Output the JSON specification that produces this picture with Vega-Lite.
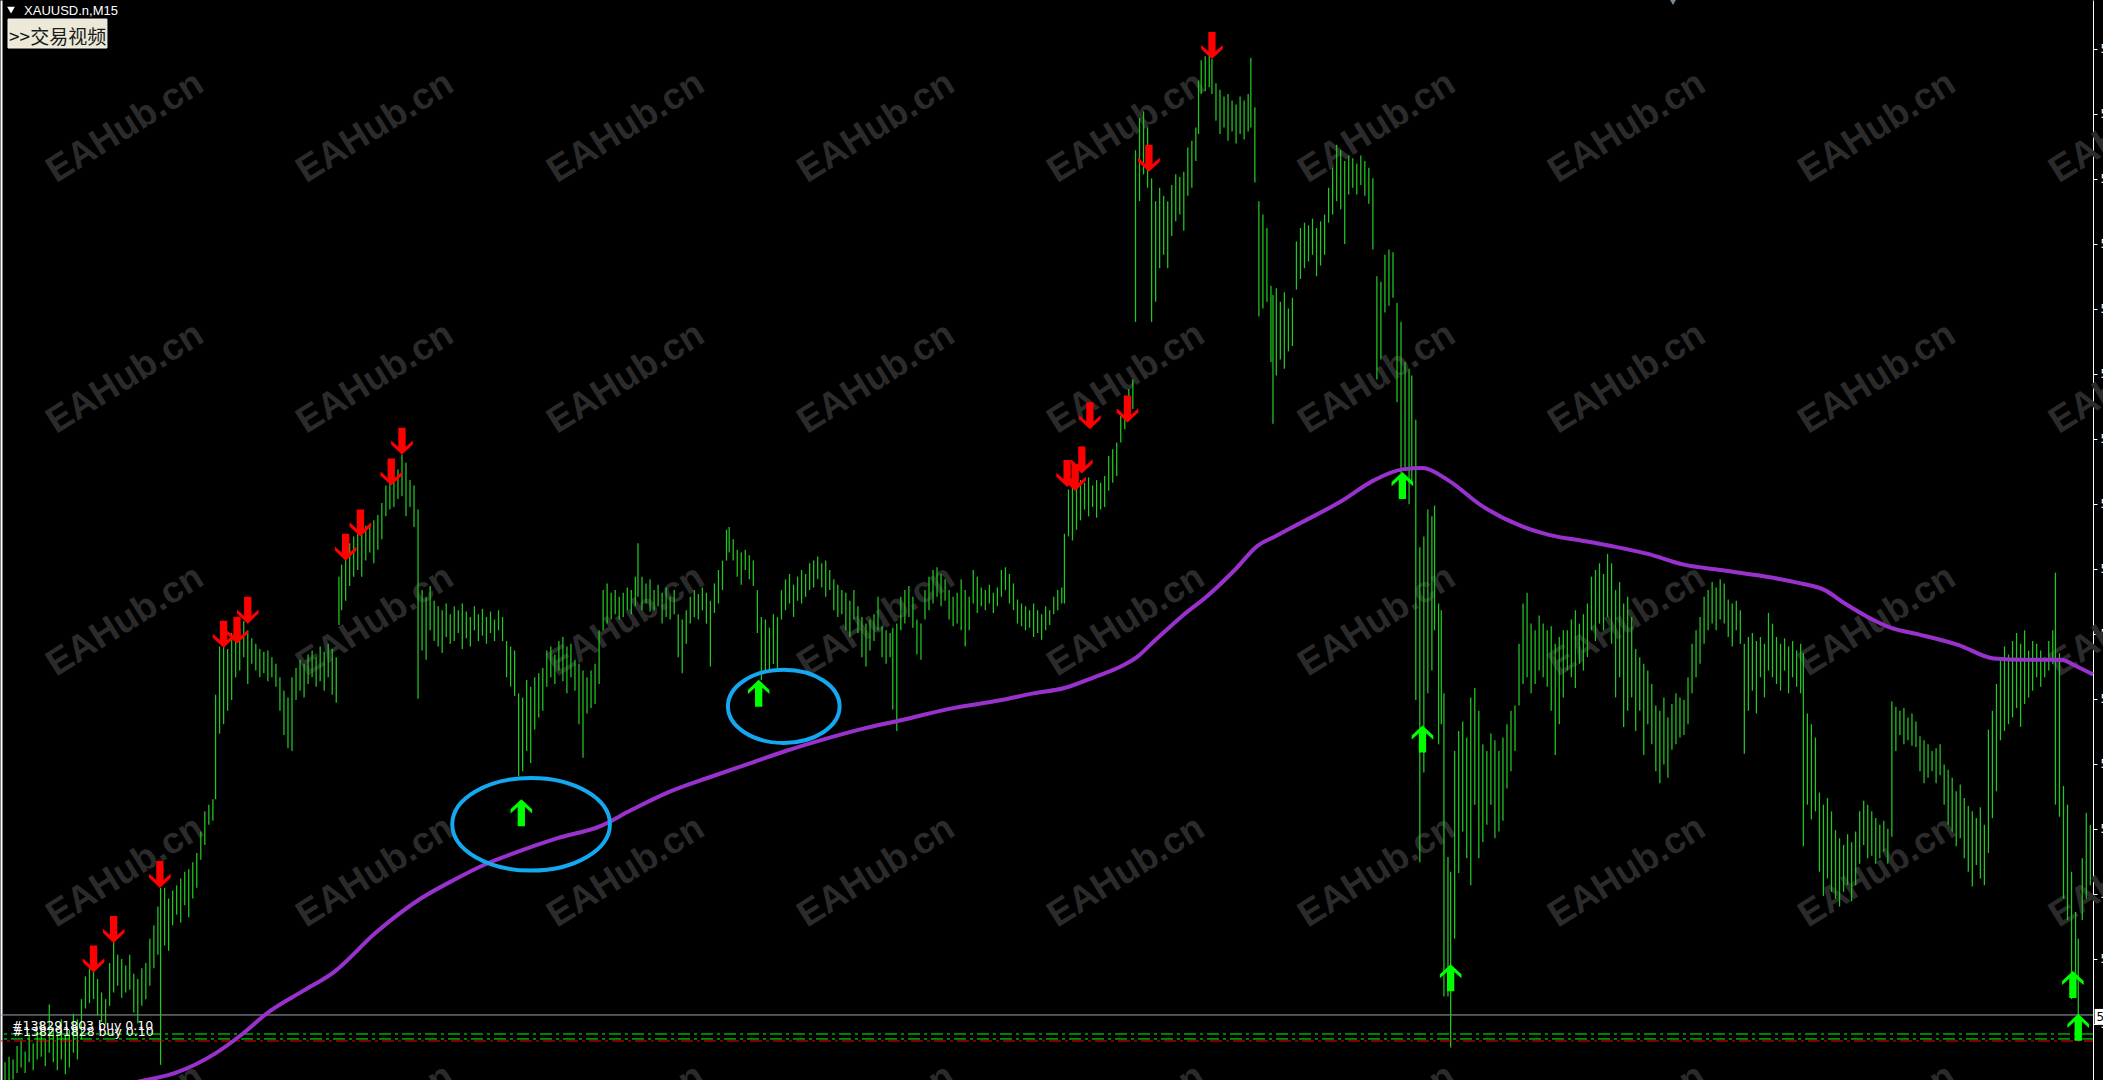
{
"$schema":"https://vega.github.io/schema/vega-lite/v6.json",
"width":2092,"height":1080,
"autosize":{"type":"none"},
"padding":{"left":1,"top":0,"right":10,"bottom":0},
"background":"#000000",
"config":{"view":{"stroke":null},"axis":{"grid":false,"title":null}},
"resolve":{"axis":{"y":"independent"}},
"datasets":{
"wm":[
{"b":92.5,"p":5090.5,"t":"EAHub.cn"},{"b":279,"p":5090.5,"t":"EAHub.cn"},{"b":466,"p":5090.5,"t":"EAHub.cn"},{"b":652.5,"p":5090.5,"t":"EAHub.cn"},{"b":839,"p":5090.5,"t":"EAHub.cn"},{"b":1026,"p":5090.5,"t":"EAHub.cn"},{"b":1212.5,"p":5090.5,"t":"EAHub.cn"},{"b":1399,"p":5090.5,"t":"EAHub.cn"},{"b":1586,"p":5090.5,"t":"EAHub.cn"},
{"b":92.5,"p":5071.8,"t":"EAHub.cn"},{"b":279,"p":5071.8,"t":"EAHub.cn"},{"b":466,"p":5071.8,"t":"EAHub.cn"},{"b":652.5,"p":5071.8,"t":"EAHub.cn"},{"b":839,"p":5071.8,"t":"EAHub.cn"},{"b":1026,"p":5071.8,"t":"EAHub.cn"},{"b":1212.5,"p":5071.8,"t":"EAHub.cn"},{"b":1399,"p":5071.8,"t":"EAHub.cn"},{"b":1586,"p":5071.8,"t":"EAHub.cn"},
{"b":92.5,"p":5053.7,"t":"EAHub.cn"},{"b":279,"p":5053.7,"t":"EAHub.cn"},{"b":466,"p":5053.7,"t":"EAHub.cn"},{"b":652.5,"p":5053.7,"t":"EAHub.cn"},{"b":839,"p":5053.7,"t":"EAHub.cn"},{"b":1026,"p":5053.7,"t":"EAHub.cn"},{"b":1212.5,"p":5053.7,"t":"EAHub.cn"},{"b":1399,"p":5053.7,"t":"EAHub.cn"},{"b":1586,"p":5053.7,"t":"EAHub.cn"},
{"b":92.5,"p":5035.0,"t":"EAHub.cn"},{"b":279,"p":5035.0,"t":"EAHub.cn"},{"b":466,"p":5035.0,"t":"EAHub.cn"},{"b":652.5,"p":5035.0,"t":"EAHub.cn"},{"b":839,"p":5035.0,"t":"EAHub.cn"},{"b":1026,"p":5035.0,"t":"EAHub.cn"},{"b":1212.5,"p":5035.0,"t":"EAHub.cn"},{"b":1399,"p":5035.0,"t":"EAHub.cn"},{"b":1586,"p":5035.0,"t":"EAHub.cn"},
{"b":92.5,"p":5016.5,"t":"EAHub.cn"},{"b":279,"p":5016.5,"t":"EAHub.cn"},{"b":466,"p":5016.5,"t":"EAHub.cn"},{"b":652.5,"p":5016.5,"t":"EAHub.cn"},{"b":839,"p":5016.5,"t":"EAHub.cn"},{"b":1026,"p":5016.5,"t":"EAHub.cn"},{"b":1212.5,"p":5016.5,"t":"EAHub.cn"},{"b":1399,"p":5016.5,"t":"EAHub.cn"},{"b":1586,"p":5016.5,"t":"EAHub.cn"}
],
"lv":[{"p":5024.32,"k":"bid"},{"p":5022.9,"k":"g"},{"p":5022.53,"k":"g"},{"p":5022.38,"k":"r"}],
"bars":[
{"b":3,"h":5020.8,"l":5019.0},{"b":6,"h":5021.2,"l":5019.2},{"b":9,"h":5021.0,"l":5019.5},{"b":12,"h":5022.0,"l":5020.0},{"b":15,"h":5022.4,"l":5020.4},{"b":18,"h":5021.6,"l":5020.0},{"b":21,"h":5022.8,"l":5020.8},{"b":24,"h":5022.2,"l":5020.2},{"b":27,"h":5023.0,"l":5021.0},{"b":30,"h":5023.8,"l":5021.2},{"b":33,"h":5022.5,"l":5020.5},{"b":36,"h":5025.1,"l":5021.5},{"b":39,"h":5023.4,"l":5020.8},{"b":42,"h":5023.0,"l":5020.2},{"b":45,"h":5024.0,"l":5021.0},{"b":48,"h":5022.8,"l":5019.9},{"b":51,"h":5023.2,"l":5020.4},{"b":54,"h":5024.4,"l":5021.5},{"b":57,"h":5024.0,"l":5021.0},{"b":60,"h":5025.5,"l":5022.5},
{"b":63,"h":5027.2,"l":5024.8},{"b":66,"h":5027.8,"l":5025.2},{"b":69,"h":5027.6,"l":5025.5},{"b":72,"h":5027.0,"l":5024.3},{"b":75,"h":5026.0,"l":5023.8},{"b":78,"h":5025.5,"l":5023.6},{"b":81,"h":5028.2,"l":5025.0},{"b":84,"h":5029.8,"l":5026.0},{"b":87,"h":5028.8,"l":5026.5},{"b":90,"h":5028.5,"l":5025.6},{"b":93,"h":5028.0,"l":5026.0},{"b":96,"h":5028.8,"l":5026.2},{"b":99,"h":5027.4,"l":5024.5},{"b":102,"h":5027.0,"l":5023.7},{"b":105,"h":5027.8,"l":5025.0},{"b":108,"h":5028.2,"l":5025.5},{"b":111,"h":5030.0,"l":5026.5},{"b":114,"h":5031.0,"l":5027.8},{"b":117,"h":5032.4,"l":5028.8},{"b":119,"h":5033.8,"l":5020.6},
{"b":122,"h":5033.8,"l":5029.5},{"b":125,"h":5033.0,"l":5029.1},{"b":128,"h":5033.6,"l":5031.0},{"b":131,"h":5034.0,"l":5031.8},{"b":134,"h":5034.5,"l":5031.2},{"b":137,"h":5035.0,"l":5032.5},{"b":140,"h":5035.2,"l":5031.6},{"b":143,"h":5035.7,"l":5033.0},{"b":146,"h":5036.4,"l":5033.8},{"b":149,"h":5038.0,"l":5035.9},{"b":152,"h":5039.5,"l":5037.0},{"b":155,"h":5040.0,"l":5038.5},{"b":158,"h":5040.4,"l":5038.8},{"b":160,"h":5048.2,"l":5040.4},
{"b":163,"h":5051.8,"l":5045.3},{"b":166,"h":5052.2,"l":5046.0},{"b":169,"h":5051.6,"l":5047.0},{"b":172,"h":5052.8,"l":5047.8},{"b":175,"h":5053.4,"l":5049.5},{"b":178,"h":5053.2,"l":5050.0},{"b":181,"h":5053.7,"l":5051.0},{"b":184,"h":5053.0,"l":5049.0},{"b":187,"h":5052.4,"l":5050.5},{"b":190,"h":5052.0,"l":5050.0},{"b":193,"h":5051.6,"l":5049.5},{"b":196,"h":5051.4,"l":5049.8},{"b":199,"h":5051.5,"l":5049.2},{"b":202,"h":5051.0,"l":5049.5},{"b":205,"h":5050.5,"l":5048.8},{"b":208,"h":5049.5,"l":5047.0},{"b":211,"h":5048.5,"l":5045.2},{"b":214,"h":5048.0,"l":5044.2},{"b":217,"h":5049.5,"l":5044.0},
{"b":220,"h":5050.2,"l":5047.8},{"b":223,"h":5050.8,"l":5048.5},{"b":226,"h":5050.5,"l":5048.0},{"b":229,"h":5051.2,"l":5049.0},{"b":232,"h":5051.5,"l":5049.5},{"b":235,"h":5051.0,"l":5048.8},{"b":238,"h":5051.8,"l":5049.2},{"b":241,"h":5051.4,"l":5048.5},{"b":244,"h":5052.0,"l":5049.5},{"b":247,"h":5051.6,"l":5048.2},{"b":250,"h":5051.0,"l":5047.6},
{"b":252,"h":5057.0,"l":5053.4},{"b":254,"h":5057.9,"l":5054.5},{"b":257,"h":5058.5,"l":5055.2},{"b":260,"h":5059.5,"l":5056.3},{"b":263,"h":5060.0,"l":5057.0},{"b":266,"h":5060.2,"l":5057.5},{"b":269,"h":5060.5,"l":5057.0},{"b":272,"h":5060.8,"l":5058.2},{"b":275,"h":5060.8,"l":5058.8},{"b":278,"h":5061.2,"l":5058.0},{"b":281,"h":5061.6,"l":5059.0},{"b":284,"h":5062.5,"l":5059.8},{"b":287,"h":5063.8,"l":5061.5},{"b":290,"h":5064.2,"l":5062.0},{"b":293,"h":5064.4,"l":5062.2},{"b":296,"h":5065.0,"l":5062.8},{"b":299,"h":5066.1,"l":5063.0},{"b":302,"h":5065.5,"l":5061.5},{"b":305,"h":5064.2,"l":5062.2},{"b":308,"h":5063.8,"l":5060.7},{"b":311,"h":5062.0,"l":5047.9},
{"b":314,"h":5056.0,"l":5051.5},{"b":317,"h":5055.5,"l":5050.8},{"b":320,"h":5056.3,"l":5053.0},{"b":323,"h":5055.2,"l":5052.2},{"b":326,"h":5054.8,"l":5051.8},{"b":329,"h":5054.5,"l":5051.3},{"b":332,"h":5055.0,"l":5052.5},{"b":335,"h":5054.2,"l":5052.0},{"b":338,"h":5054.8,"l":5052.2},{"b":341,"h":5054.5,"l":5052.8},{"b":344,"h":5055.0,"l":5051.6},{"b":347,"h":5054.4,"l":5052.4},{"b":350,"h":5054.0,"l":5051.8},{"b":353,"h":5054.8,"l":5053.0},{"b":356,"h":5054.2,"l":5052.2},{"b":359,"h":5054.6,"l":5052.6},{"b":362,"h":5054.0,"l":5052.0},{"b":365,"h":5054.4,"l":5052.8},{"b":368,"h":5053.8,"l":5052.2},{"b":371,"h":5054.5,"l":5053.0},{"b":374,"h":5054.0,"l":5052.2},
{"b":377,"h":5052.2,"l":5049.5},{"b":380,"h":5051.8,"l":5048.8},{"b":383,"h":5051.5,"l":5048.1},{"b":386,"h":5048.3,"l":5042.1},{"b":389,"h":5048.0,"l":5042.5},{"b":392,"h":5049.3,"l":5044.0},{"b":395,"h":5048.8,"l":5043.1},{"b":398,"h":5049.5,"l":5045.6},{"b":401,"h":5049.8,"l":5046.5},{"b":404,"h":5050.2,"l":5047.0},{"b":407,"h":5051.5,"l":5048.8},{"b":410,"h":5051.8,"l":5049.5},{"b":413,"h":5051.2,"l":5049.0},{"b":416,"h":5052.2,"l":5050.0},{"b":419,"h":5052.5,"l":5049.2},{"b":422,"h":5051.8,"l":5048.3},{"b":425,"h":5052.0,"l":5049.5},{"b":428,"h":5050.8,"l":5048.5},{"b":431,"h":5050.5,"l":5046.0},{"b":434,"h":5050.0,"l":5043.5},{"b":437,"h":5049.5,"l":5046.8},{"b":440,"h":5050.0,"l":5047.2},{"b":443,"h":5050.5,"l":5047.5},{"b":446,"h":5053.0,"l":5049.0},
{"b":449,"h":5056.0,"l":5053.0},{"b":452,"h":5056.5,"l":5053.5},{"b":455,"h":5055.8,"l":5053.8},{"b":458,"h":5056.0,"l":5054.2},{"b":461,"h":5055.5,"l":5053.8},{"b":464,"h":5055.8,"l":5054.0},{"b":467,"h":5056.2,"l":5054.5},{"b":470,"h":5056.0,"l":5054.2},{"b":473,"h":5057.0,"l":5054.8},{"b":475,"h":5059.5,"l":5055.5},{"b":478,"h":5057.0,"l":5054.5},{"b":481,"h":5056.5,"l":5055.0},{"b":484,"h":5056.8,"l":5054.4},{"b":487,"h":5056.0,"l":5054.5},{"b":490,"h":5056.4,"l":5054.8},{"b":493,"h":5055.8,"l":5053.5},{"b":496,"h":5056.2,"l":5054.0},{"b":499,"h":5055.5,"l":5053.8},{"b":502,"h":5056.0,"l":5054.2},{"b":505,"h":5054.2,"l":5051.0},{"b":508,"h":5053.8,"l":5049.8},{"b":511,"h":5054.5,"l":5052.0},{"b":514,"h":5055.5,"l":5053.5},{"b":517,"h":5056.0,"l":5054.0},{"b":520,"h":5055.7,"l":5053.8},{"b":523,"h":5056.2,"l":5054.5},{"b":526,"h":5055.8,"l":5053.5},{"b":529,"h":5055.2,"l":5050.3},
{"b":532,"h":5056.5,"l":5054.3},{"b":535,"h":5057.5,"l":5055.0},{"b":538,"h":5058.2,"l":5056.0},{"b":541,"h":5060.5,"l":5058.2},{"b":543,"h":5060.7,"l":5058.8},{"b":546,"h":5059.8,"l":5058.2},{"b":549,"h":5059.0,"l":5057.0},{"b":552,"h":5058.8,"l":5056.4},{"b":555,"h":5059.0,"l":5057.5},{"b":558,"h":5058.6,"l":5056.8},{"b":561,"h":5058.2,"l":5056.3},{"b":564,"h":5056.0,"l":5052.8},{"b":567,"h":5054.0,"l":5049.3},{"b":570,"h":5053.8,"l":5050.0},{"b":573,"h":5053.2,"l":5050.0},{"b":576,"h":5054.2,"l":5050.5},{"b":579,"h":5054.0,"l":5050.0},{"b":582,"h":5056.0,"l":5053.8},{"b":585,"h":5056.8,"l":5054.5},{"b":588,"h":5057.2,"l":5055.0},{"b":591,"h":5056.4,"l":5054.0},{"b":594,"h":5057.0,"l":5055.2},{"b":597,"h":5057.5,"l":5055.0},{"b":600,"h":5057.2,"l":5055.5},{"b":603,"h":5058.0,"l":5056.0},{"b":606,"h":5058.2,"l":5056.2},{"b":609,"h":5058.5,"l":5056.8},
{"b":612,"h":5058.0,"l":5056.2},{"b":615,"h":5058.2,"l":5055.5},{"b":618,"h":5057.5,"l":5056.0},{"b":621,"h":5056.8,"l":5054.5},{"b":624,"h":5056.4,"l":5054.0},{"b":627,"h":5056.0,"l":5054.2},{"b":630,"h":5055.8,"l":5053.0},{"b":633,"h":5055.2,"l":5052.5},{"b":636,"h":5056.0,"l":5053.8},{"b":639,"h":5054.8,"l":5052.8},{"b":642,"h":5054.0,"l":5051.0},{"b":645,"h":5053.5,"l":5050.3},{"b":648,"h":5053.8,"l":5051.5},{"b":651,"h":5054.2,"l":5052.2},{"b":654,"h":5055.5,"l":5053.0},{"b":657,"h":5053.3,"l":5051.0},{"b":660,"h":5053.0,"l":5050.5},{"b":663,"h":5052.8,"l":5051.0},{"b":665,"h":5053.2,"l":5047.1},{"b":668,"h":5053.5,"l":5045.5},
{"b":671,"h":5055.5,"l":5053.0},{"b":674,"h":5056.0,"l":5053.5},{"b":677,"h":5056.3,"l":5054.0},{"b":680,"h":5055.5,"l":5053.2},{"b":683,"h":5053.8,"l":5051.2},{"b":686,"h":5053.5,"l":5050.8},{"b":689,"h":5056.0,"l":5053.8},{"b":692,"h":5057.0,"l":5054.5},{"b":695,"h":5057.5,"l":5055.0},{"b":698,"h":5057.7,"l":5055.5},{"b":701,"h":5057.2,"l":5054.8},{"b":704,"h":5056.8,"l":5055.2},{"b":707,"h":5056.0,"l":5053.8},{"b":710,"h":5055.5,"l":5053.3},{"b":713,"h":5055.8,"l":5053.5},{"b":716,"h":5056.8,"l":5053.0},{"b":719,"h":5056.0,"l":5051.8},{"b":722,"h":5055.5,"l":5053.0},{"b":725,"h":5057.5,"l":5055.0},{"b":728,"h":5057.0,"l":5054.3},{"b":731,"h":5056.2,"l":5054.8},{"b":734,"h":5056.0,"l":5054.5},{"b":737,"h":5056.4,"l":5055.0},{"b":740,"h":5055.8,"l":5054.3},{"b":743,"h":5056.2,"l":5054.8},{"b":746,"h":5057.5,"l":5055.5},{"b":749,"h":5057.7,"l":5056.0},{"b":752,"h":5057.2,"l":5055.0},{"b":755,"h":5056.5,"l":5054.5},
{"b":758,"h":5055.3,"l":5053.5},{"b":761,"h":5055.0,"l":5053.3},{"b":764,"h":5054.8,"l":5053.0},{"b":767,"h":5054.5,"l":5053.2},{"b":770,"h":5055.0,"l":5052.5},{"b":773,"h":5054.5,"l":5052.8},{"b":776,"h":5054.2,"l":5052.3},{"b":779,"h":5054.8,"l":5053.0},{"b":782,"h":5054.5,"l":5053.4},{"b":785,"h":5055.5,"l":5054.2},{"b":788,"h":5056.0,"l":5054.5},{"b":791,"h":5056.2,"l":5055.0},{"b":793,"h":5060.2,"l":5055.0},
{"b":796,"h":5063.5,"l":5060.0},{"b":799,"h":5064.5,"l":5059.7},{"b":802,"h":5063.7,"l":5060.5},{"b":805,"h":5064.2,"l":5061.2},{"b":808,"h":5064.0,"l":5062.0},{"b":811,"h":5064.4,"l":5061.5},{"b":814,"h":5063.8,"l":5062.2},{"b":817,"h":5064.2,"l":5061.4},{"b":820,"h":5064.0,"l":5062.0},{"b":823,"h":5064.5,"l":5062.2},{"b":826,"h":5066.0,"l":5063.4},{"b":829,"h":5066.5,"l":5064.0},{"b":832,"h":5067.0,"l":5064.5},{"b":835,"h":5069.0,"l":5067.0},{"b":838,"h":5070.5,"l":5068.0},{"b":841,"h":5071.0,"l":5068.8},{"b":844,"h":5071.7,"l":5069.5},{"b":846,"h":5088.8,"l":5076.0},
{"b":849,"h":5091.2,"l":5085.0},{"b":852,"h":5091.7,"l":5087.0},{"b":855,"h":5090.5,"l":5086.0},{"b":858,"h":5086.7,"l":5076.0},{"b":861,"h":5085.0,"l":5077.5},{"b":864,"h":5086.0,"l":5080.0},{"b":867,"h":5085.4,"l":5081.0},{"b":870,"h":5085.0,"l":5080.0},{"b":873,"h":5086.2,"l":5082.4},{"b":876,"h":5087.0,"l":5083.5},{"b":879,"h":5086.8,"l":5084.0},{"b":882,"h":5087.2,"l":5082.8},{"b":885,"h":5089.0,"l":5085.4},{"b":888,"h":5089.5,"l":5086.0},{"b":891,"h":5090.5,"l":5088.0},{"b":893,"h":5094.0,"l":5090.0},{"b":895,"h":5095.5,"l":5093.0},{"b":898,"h":5095.8,"l":5093.2},{"b":901,"h":5096.0,"l":5093.5},{"b":903,"h":5095.6,"l":5093.0},
{"b":906,"h":5093.8,"l":5091.0},{"b":909,"h":5093.3,"l":5090.0},{"b":912,"h":5092.8,"l":5090.5},{"b":915,"h":5093.0,"l":5089.5},{"b":918,"h":5092.5,"l":5090.2},{"b":921,"h":5092.2,"l":5089.3},{"b":924,"h":5092.8,"l":5090.0},{"b":927,"h":5092.5,"l":5089.6},{"b":930,"h":5093.0,"l":5090.2},{"b":932,"h":5095.7,"l":5090.5},{"b":935,"h":5092.0,"l":5086.4},{"b":938,"h":5085.0,"l":5076.4},{"b":941,"h":5084.0,"l":5077.0},{"b":944,"h":5083.0,"l":5077.5},{"b":947,"h":5078.7,"l":5073.0},{"b":948.5,"h":5078.0,"l":5068.4},{"b":951,"h":5078.5,"l":5072.0},{"b":954,"h":5077.5,"l":5073.2},{"b":957,"h":5078.2,"l":5072.5},{"b":960,"h":5077.0,"l":5073.8},{"b":963,"h":5077.8,"l":5074.2},
{"b":966,"h":5082.0,"l":5078.4},{"b":969,"h":5083.0,"l":5079.2},{"b":972,"h":5083.4,"l":5080.0},{"b":975,"h":5083.2,"l":5080.5},{"b":978,"h":5083.7,"l":5081.0},{"b":981,"h":5083.0,"l":5079.4},{"b":984,"h":5083.5,"l":5080.2},{"b":987,"h":5084.0,"l":5081.0},{"b":990,"h":5086.0,"l":5083.4},{"b":993,"h":5087.5,"l":5084.0},{"b":996,"h":5089.2,"l":5085.0},{"b":999,"h":5088.8,"l":5084.4},{"b":1002,"h":5088.0,"l":5081.8},{"b":1005,"h":5088.4,"l":5085.5},{"b":1008,"h":5088.2,"l":5086.0},{"b":1011,"h":5087.8,"l":5085.5},{"b":1014,"h":5088.4,"l":5086.2},{"b":1017,"h":5088.0,"l":5085.4},{"b":1020,"h":5087.5,"l":5084.8},{"b":1023,"h":5086.7,"l":5081.4},
{"b":1026,"h":5079.4,"l":5071.7},{"b":1029,"h":5079.0,"l":5073.2},{"b":1032,"h":5081.0,"l":5076.7},{"b":1035,"h":5081.4,"l":5077.2},{"b":1038,"h":5081.2,"l":5077.8},{"b":1041,"h":5077.4,"l":5070.0},{"b":1044,"h":5076.0,"l":5064.7},{"b":1047,"h":5073.0,"l":5065.0},{"b":1050,"h":5072.5,"l":5062.4},{"b":1052,"h":5072.0,"l":5064.0},{"b":1055,"h":5068.7,"l":5047.8},
{"b":1058,"h":5059.2,"l":5035.7},{"b":1061,"h":5060.0,"l":5042.4},{"b":1064,"h":5062.0,"l":5048.3},{"b":1067,"h":5061.5,"l":5050.0},{"b":1069,"h":5062.3,"l":5053.0},{"b":1072,"h":5055.0,"l":5044.5},{"b":1074,"h":5054.5,"l":5046.0},{"b":1076,"h":5048.3,"l":5025.7},{"b":1079,"h":5036.1,"l":5025.7},{"b":1081,"h":5035.0,"l":5021.9},{"b":1084,"h":5044.0,"l":5030.0},{"b":1087,"h":5045.5,"l":5034.9},{"b":1090,"h":5046.2,"l":5038.0},{"b":1093,"h":5045.0,"l":5036.0},{"b":1096,"h":5048.0,"l":5034.0},{"b":1099,"h":5048.7,"l":5040.0},{"b":1102,"h":5047.0,"l":5036.0},{"b":1105,"h":5044.5,"l":5037.2},{"b":1108,"h":5044.0,"l":5038.5},{"b":1111,"h":5045.3,"l":5040.0},{"b":1114,"h":5044.8,"l":5037.5},{"b":1117,"h":5044.0,"l":5038.0},{"b":1120,"h":5045.0,"l":5038.8},{"b":1123,"h":5046.0,"l":5041.2},{"b":1126,"h":5047.0,"l":5042.5},{"b":1129,"h":5047.4,"l":5044.0},
{"b":1132,"h":5052.0,"l":5047.4},{"b":1135,"h":5055.0,"l":5049.0},{"b":1138,"h":5055.8,"l":5049.5},{"b":1141,"h":5053.5,"l":5048.3},{"b":1144,"h":5053.0,"l":5049.0},{"b":1147,"h":5054.1,"l":5050.0},{"b":1150,"h":5053.5,"l":5049.5},{"b":1153,"h":5053.0,"l":5048.8},{"b":1156,"h":5053.3,"l":5047.0},{"b":1159,"h":5052.0,"l":5043.7},{"b":1162,"h":5052.5,"l":5046.0},{"b":1165,"h":5053.0,"l":5048.0},{"b":1168,"h":5053.0,"l":5050.0},{"b":1171,"h":5053.8,"l":5049.5},{"b":1174,"h":5054.5,"l":5048.7},{"b":1177,"h":5053.5,"l":5050.5},{"b":1180,"h":5054.2,"l":5050.0},{"b":1183,"h":5055.0,"l":5051.0},{"b":1186,"h":5057.0,"l":5053.0},{"b":1189,"h":5057.5,"l":5052.2},{"b":1192,"h":5058.0,"l":5053.5},{"b":1195,"h":5057.2,"l":5053.0},{"b":1198,"h":5058.7,"l":5054.0},{"b":1201,"h":5058.0,"l":5052.0},
{"b":1204,"h":5056.0,"l":5048.0},{"b":1207,"h":5056.6,"l":5049.5},{"b":1210,"h":5055.0,"l":5045.8},{"b":1213,"h":5055.5,"l":5047.0},{"b":1216,"h":5054.0,"l":5048.0},{"b":1219,"h":5051.6,"l":5045.5},{"b":1222,"h":5051.0,"l":5047.0},{"b":1225,"h":5050.5,"l":5043.7},{"b":1228,"h":5050.0,"l":5046.0},{"b":1231,"h":5049.0,"l":5044.5},{"b":1234,"h":5047.4,"l":5042.5},{"b":1237,"h":5047.0,"l":5041.6},{"b":1240,"h":5048.0,"l":5043.0},{"b":1243,"h":5046.5,"l":5042.0},{"b":1246,"h":5047.5,"l":5044.1},{"b":1249,"h":5048.3,"l":5044.5},{"b":1252,"h":5048.0,"l":5045.0},{"b":1255,"h":5047.8,"l":5045.2},{"b":1258,"h":5049.5,"l":5046.0},{"b":1261,"h":5052.0,"l":5048.3},{"b":1264,"h":5053.0,"l":5049.5},{"b":1267,"h":5054.0,"l":5050.5},{"b":1270,"h":5055.5,"l":5052.0},{"b":1273,"h":5056.0,"l":5053.0},{"b":1276,"h":5056.6,"l":5053.5},{"b":1279,"h":5056.2,"l":5053.0},{"b":1282,"h":5056.8,"l":5053.8},
{"b":1285,"h":5056.5,"l":5053.5},{"b":1288,"h":5055.3,"l":5052.5},{"b":1291,"h":5055.0,"l":5051.8},{"b":1294,"h":5055.2,"l":5053.0},{"b":1297,"h":5054.5,"l":5052.0},{"b":1300,"h":5052.0,"l":5043.8},{"b":1303,"h":5052.5,"l":5047.0},{"b":1306,"h":5052.8,"l":5048.5},{"b":1309,"h":5052.2,"l":5046.8},{"b":1312,"h":5052.5,"l":5049.5},{"b":1315,"h":5052.0,"l":5048.0},{"b":1318,"h":5054.3,"l":5050.0},{"b":1321,"h":5053.5,"l":5049.5},{"b":1324,"h":5052.5,"l":5049.0},{"b":1327,"h":5052.0,"l":5048.5},{"b":1330,"h":5052.4,"l":5050.0},{"b":1333,"h":5051.8,"l":5048.3},{"b":1336,"h":5052.2,"l":5049.5},{"b":1339,"h":5051.5,"l":5048.8},{"b":1342,"h":5052.0,"l":5048.3},{"b":1344,"h":5051.3,"l":5036.9},
{"b":1347,"h":5046.8,"l":5040.0},{"b":1350,"h":5046.0,"l":5038.9},{"b":1353,"h":5045.0,"l":5039.5},{"b":1356,"h":5040.9,"l":5035.0},{"b":1359,"h":5040.0,"l":5033.2},{"b":1362,"h":5040.5,"l":5034.5},{"b":1365,"h":5039.5,"l":5033.5},{"b":1368,"h":5038.1,"l":5033.0},{"b":1371,"h":5037.5,"l":5032.4},{"b":1374,"h":5037.0,"l":5033.5},{"b":1377,"h":5037.8,"l":5034.0},{"b":1380,"h":5037.2,"l":5032.8},{"b":1383,"h":5038.0,"l":5034.0},{"b":1386,"h":5039.5,"l":5035.6},{"b":1389,"h":5040.3,"l":5037.0},{"b":1392,"h":5040.0,"l":5036.0},{"b":1395,"h":5039.5,"l":5036.2},{"b":1398,"h":5039.0,"l":5035.6},{"b":1401,"h":5038.5,"l":5036.0},{"b":1404,"h":5038.8,"l":5036.5},{"b":1407,"h":5038.2,"l":5035.6},{"b":1410,"h":5047.7,"l":5037.6},
{"b":1413,"h":5047.3,"l":5044.0},{"b":1416,"h":5047.0,"l":5045.2},{"b":1419,"h":5047.2,"l":5044.5},{"b":1422,"h":5046.5,"l":5044.8},{"b":1425,"h":5046.8,"l":5044.4},{"b":1428,"h":5046.2,"l":5044.3},{"b":1431,"h":5045.1,"l":5042.5},{"b":1434,"h":5044.8,"l":5041.6},{"b":1437,"h":5044.5,"l":5042.0},{"b":1440,"h":5044.0,"l":5042.5},{"b":1443,"h":5044.2,"l":5041.6},{"b":1446,"h":5044.5,"l":5042.2},{"b":1449,"h":5043.0,"l":5040.0},{"b":1452,"h":5042.6,"l":5038.5},{"b":1455,"h":5042.0,"l":5038.0},{"b":1458,"h":5041.0,"l":5036.9},{"b":1461,"h":5041.5,"l":5037.5},{"b":1464,"h":5040.5,"l":5036.0},{"b":1467,"h":5039.9,"l":5035.0},{"b":1470,"h":5039.5,"l":5033.9},{"b":1473,"h":5039.0,"l":5035.5},{"b":1476,"h":5039.8,"l":5034.5},{"b":1479,"h":5038.5,"l":5034.0},
{"b":1482,"h":5045.6,"l":5036.4},{"b":1485,"h":5047.0,"l":5039.0},{"b":1488,"h":5049.0,"l":5041.0},{"b":1491,"h":5051.0,"l":5044.8},{"b":1494,"h":5051.8,"l":5045.5},{"b":1497,"h":5051.2,"l":5046.0},{"b":1500,"h":5052.2,"l":5046.5},{"b":1503,"h":5052.8,"l":5047.2},{"b":1506,"h":5052.0,"l":5045.8},{"b":1509,"h":5053.0,"l":5047.5},{"b":1512,"h":5051.5,"l":5048.0},{"b":1515,"h":5052.2,"l":5048.5},{"b":1518,"h":5052.0,"l":5049.5},{"b":1521,"h":5051.5,"l":5048.8},{"b":1524,"h":5051.0,"l":5049.5},{"b":1527,"h":5052.2,"l":5050.0},{"b":1530,"h":5053.0,"l":5050.5},{"b":1532,"h":5057.3,"l":5040.0},{"b":1535,"h":5051.3,"l":5039.1},{"b":1538,"h":5041.4,"l":5033.0},{"b":1541,"h":5040.0,"l":5031.4},{"b":1544,"h":5035.0,"l":5025.5},{"b":1547,"h":5032.0,"l":5026.0},{"b":1549,"h":5030.0,"l":5024.0},{"b":1552,"h":5036.0,"l":5031.4},{"b":1555,"h":5039.4,"l":5033.0},{"b":1558,"h":5038.5,"l":5034.0}
],
"ma":[
{"b":95,"p":5019.2},{"b":105,"p":5019.4},{"b":130,"p":5020.0},{"b":159,"p":5021.4},{"b":180,"p":5022.9},{"b":199,"p":5024.5},{"b":225,"p":5026.1},{"b":248,"p":5027.5},{"b":280,"p":5030.5},{"b":313,"p":5033.0},{"b":338,"p":5034.4},{"b":360,"p":5035.5},{"b":383,"p":5036.4},{"b":415,"p":5037.5},{"b":447,"p":5038.4},{"b":470,"p":5039.6},{"b":497,"p":5040.9},{"b":530,"p":5042.1},{"b":559,"p":5043.1},{"b":585,"p":5044.0},{"b":611,"p":5044.8},{"b":640,"p":5045.6},{"b":671,"p":5046.3},{"b":710,"p":5047.2},{"b":746,"p":5047.8},{"b":770,"p":5048.3},{"b":793,"p":5048.7},{"b":815,"p":5049.5},{"b":835,"p":5050.3},{"b":847,"p":5051.0},{"b":860,"p":5052.2},{"b":880,"p":5054.0},{"b":900,"p":5055.6},{"b":920,"p":5057.5},{"b":937,"p":5059.3},{"b":950,"p":5060.0},{"b":967,"p":5060.9},{"b":999,"p":5062.6},{"b":1024,"p":5064.2},{"b":1045,"p":5065.0},{"b":1060,"p":5065.1},{"b":1079,"p":5064.2},{"b":1104,"p":5062.3},{"b":1133,"p":5060.8},{"b":1155,"p":5060.1},{"b":1178,"p":5059.7},{"b":1200,"p":5059.3},{"b":1228,"p":5058.7},{"b":1255,"p":5057.9},{"b":1282,"p":5057.5},{"b":1310,"p":5057.1},{"b":1342,"p":5056.5},{"b":1360,"p":5056.0},{"b":1375,"p":5055.0},{"b":1392,"p":5054.0},{"b":1409,"p":5053.2},{"b":1430,"p":5052.7},{"b":1460,"p":5051.9},{"b":1486,"p":5050.9},{"b":1510,"p":5050.8},{"b":1536,"p":5050.8},{"b":1548,"p":5050.3},{"b":1560,"p":5049.7}
],
"sig":[
{"b":69,"p":5028.5,"d":"sell"},{"b":84,"p":5030.7,"d":"sell"},{"b":118.5,"p":5034.8,"d":"sell"},{"b":166,"p":5052.7,"d":"sell"},{"b":176,"p":5053.0,"d":"sell"},{"b":184,"p":5054.5,"d":"sell"},{"b":257,"p":5059.2,"d":"sell"},{"b":268,"p":5061.0,"d":"sell"},{"b":291,"p":5064.8,"d":"sell"},{"b":299,"p":5067.1,"d":"sell"},{"b":795,"p":5064.7,"d":"sell"},{"b":801,"p":5064.4,"d":"sell"},{"b":806,"p":5065.7,"d":"sell"},{"b":812,"p":5069.0,"d":"sell"},{"b":840,"p":5069.5,"d":"sell"},{"b":856,"p":5088.2,"d":"sell"},{"b":903,"p":5096.6,"d":"sell"},
{"b":388,"p":5039.4,"d":"buy"},{"b":565,"p":5048.3,"d":"buy"},{"b":1045,"p":5063.8,"d":"buy"},{"b":1060,"p":5044.9,"d":"buy"},{"b":1081,"p":5027.1,"d":"buy"},{"b":1545,"p":5026.6,"d":"buy"},{"b":1549,"p":5023.4,"d":"buy"}
],
"ell":[{"b":395.3,"p":5038.54,"k":"e1"},{"b":583.7,"p":5047.33,"k":"e2"}],
"lab":[
{"b":8.2,"p":5023.2,"t":"#138291803 buy 0.10","k":"tk"},{"b":8.6,"p":5022.75,"t":"#138291828 buy 0.10","k":"tk"},
{"b":17.2,"p":5098.88,"t":"XAUUSD.n,M15","k":"title"},
{"b":6.0,"p":5096.72,"t":">>交易视频","k":"btn"},
{"b":1562.7,"p":5024.17,"t":"5024.32","k":"bid"}
],
"box":[{"b":5.22,"b2":79.0,"p":5098.58,"p2":5096.42,"k":"btn"},{"b":1561.2,"b2":1575,"p":5024.77,"p2":5023.58,"k":"bid"}],
"tri":[{"b":7.46,"p":5099.25,"k":"menu"},{"b":1246.8,"p":5100.04,"k":"shift"}]
},
"layer":[
{"data":{"name":"wm"},
 "mark":{"type":"text","angle":328,"font":"Liberation Sans","fontWeight":"bold","fontSize":37,"fill":"#2b2b2b","align":"center","baseline":"middle"},
 "encoding":{"x":{"field":"b","type":"quantitative","scale":{"domain":[0,1560],"nice":false,"zero":false},"axis":null},
  "y":{"field":"p","type":"quantitative","scale":{"domain":[5019.47,5100],"nice":false,"zero":false},"axis":{"orient":"left","domainColor":"#ffffff","domainWidth":2,"ticks":false,"labels":false,"grid":false}},
  "text":{"field":"t"}}},
{"data":{"name":"lv"},"transform":[{"filter":"datum.k=='bid'"}],
 "mark":{"type":"rule","stroke":"#9aa4ae","strokeWidth":1},
 "encoding":{"y":{"field":"p","type":"quantitative","axis":null}}},
{"data":{"name":"bars"},
 "mark":{"type":"rule","stroke":"#22c822","strokeWidth":1.25},
 "encoding":{"x":{"field":"b","type":"quantitative","scale":{"domain":[0,1560],"nice":false,"zero":false},"axis":null},
  "y":{"field":"l","type":"quantitative","scale":{"domain":[5019.47,5100],"nice":false,"zero":false},"axis":{"orient":"right","values":[5096.35,5091.5,5086.66,5081.81,5076.96,5072.12,5067.27,5062.43,5057.58,5052.73,5047.89,5043.04,5038.2,5033.35,5028.5,5023.66],"format":".2f","domainColor":"#ffffff","domainWidth":1,"tickColor":"#ffffff","tickSize":4,"labelColor":"#ffffff","labelFont":"DejaVu Sans","labelFontSize":12,"labelPadding":3,"grid":false}},
  "y2":{"field":"h"}}},
{"data":{"name":"lv"},"transform":[{"filter":"datum.k=='g'"}],
 "mark":{"type":"rule","stroke":"#00ff00","strokeWidth":1,"strokeDash":[12,4,3,4]},
 "encoding":{"y":{"field":"p","type":"quantitative","axis":null}}},
{"data":{"name":"lv"},"transform":[{"filter":"datum.k=='r'"}],
 "mark":{"type":"rule","stroke":"#ff0000","strokeWidth":1,"strokeDash":[12,4,3,4],"strokeDashOffset":3},
 "encoding":{"y":{"field":"p","type":"quantitative","axis":null}}},
{"data":{"name":"ma"},
 "mark":{"type":"line","stroke":"#9932cc","strokeWidth":4,"interpolate":"monotone"},
 "encoding":{"x":{"field":"b","type":"quantitative","axis":null},"y":{"field":"p","type":"quantitative","axis":null}}},
{"data":{"name":"ell"},"transform":[{"filter":"datum.k=='e1'"}],
 "mark":{"type":"point","filled":false,"stroke":"#14a8f0","strokeWidth":4,"opacity":1,"size":24869,"shape":"M -1 0 A 1 0.588 0 1 1 1 0 A 1 0.588 0 1 1 -1 0 Z"},
 "encoding":{"x":{"field":"b","type":"quantitative","axis":null},"y":{"field":"p","type":"quantitative","axis":null}}},
{"data":{"name":"ell"},"transform":[{"filter":"datum.k=='e2'"}],
 "mark":{"type":"point","filled":false,"stroke":"#14a8f0","strokeWidth":4,"opacity":1,"size":12477,"shape":"M -1 0 A 1 0.656 0 1 1 1 0 A 1 0.656 0 1 1 -1 0 Z"},
 "encoding":{"x":{"field":"b","type":"quantitative","axis":null},"y":{"field":"p","type":"quantitative","axis":null}}},
{"data":{"name":"sig"},"transform":[{"filter":"datum.d=='sell'"}],
 "mark":{"type":"point","filled":true,"fill":"#ff0000","strokeWidth":0,"opacity":1,"size":729,"shape":"M 0 1 L 0.8 0.25 L 0.8 -0.05 L 0.27 0.42 L 0.27 -1 L -0.27 -1 L -0.27 0.42 L -0.8 -0.05 L -0.8 0.25 Z"},
 "encoding":{"x":{"field":"b","type":"quantitative","axis":null},"y":{"field":"p","type":"quantitative","axis":null}}},
{"data":{"name":"sig"},"transform":[{"filter":"datum.d=='buy'"}],
 "mark":{"type":"point","filled":true,"fill":"#00ff00","strokeWidth":0,"opacity":1,"size":729,"shape":"M 0 -1 L 0.8 -0.25 L 0.8 0.05 L 0.27 -0.42 L 0.27 1 L -0.27 1 L -0.27 -0.42 L -0.8 0.05 L -0.8 -0.25 Z"},
 "encoding":{"x":{"field":"b","type":"quantitative","axis":null},"y":{"field":"p","type":"quantitative","axis":null}}},
{"data":{"name":"box"},"transform":[{"filter":"datum.k=='btn'"}],
 "mark":{"type":"rect","fill":"#ece9d8","stroke":"#f4f2ea","strokeWidth":1},
 "encoding":{"x":{"field":"b","type":"quantitative","axis":null},"x2":{"field":"b2"},"y":{"field":"p","type":"quantitative","axis":null},"y2":{"field":"p2"}}},
{"data":{"name":"box"},"transform":[{"filter":"datum.k=='bid'"}],
 "mark":{"type":"rect","fill":"#ffffff"},
 "encoding":{"x":{"field":"b","type":"quantitative","axis":null},"x2":{"field":"b2"},"y":{"field":"p","type":"quantitative","axis":null},"y2":{"field":"p2"}}},
{"data":{"name":"tri"},"transform":[{"filter":"datum.k=='menu'"}],
 "mark":{"type":"point","shape":"triangle-down","filled":true,"fill":"#ffffff","strokeWidth":0,"opacity":1,"size":60},
 "encoding":{"x":{"field":"b","type":"quantitative","axis":null},"y":{"field":"p","type":"quantitative","axis":null}}},
{"data":{"name":"tri"},"transform":[{"filter":"datum.k=='shift'"}],
 "mark":{"type":"point","shape":"triangle-down","filled":true,"fill":"#778899","strokeWidth":0,"opacity":1,"size":169},
 "encoding":{"x":{"field":"b","type":"quantitative","axis":null},"y":{"field":"p","type":"quantitative","axis":null}}},
{"data":{"name":"lab"},"transform":[{"filter":"datum.k=='tk'"}],
 "mark":{"type":"text","font":"DejaVu Sans","fontSize":12.5,"fill":"#ffffff","align":"left","baseline":"alphabetic"},
 "encoding":{"x":{"field":"b","type":"quantitative","axis":null},"y":{"field":"p","type":"quantitative","axis":null},"text":{"field":"t"}}},
{"data":{"name":"lab"},"transform":[{"filter":"datum.k=='title'"}],
 "mark":{"type":"text","font":"Liberation Sans","fontSize":13,"fill":"#ffffff","align":"left","baseline":"alphabetic"},
 "encoding":{"x":{"field":"b","type":"quantitative","axis":null},"y":{"field":"p","type":"quantitative","axis":null},"text":{"field":"t"}}},
{"data":{"name":"lab"},"transform":[{"filter":"datum.k=='btn'"}],
 "mark":{"type":"text","font":"Noto Sans CJK SC","fontSize":19,"fill":"#1a1a1a","align":"left","baseline":"alphabetic"},
 "encoding":{"x":{"field":"b","type":"quantitative","axis":null},"y":{"field":"p","type":"quantitative","axis":null},"text":{"field":"t"}}},
{"data":{"name":"lab"},"transform":[{"filter":"datum.k=='bid'"}],
 "mark":{"type":"text","font":"DejaVu Sans","fontSize":12,"fill":"#000000","align":"left","baseline":"middle"},
 "encoding":{"x":{"field":"b","type":"quantitative","axis":null},"y":{"field":"p","type":"quantitative","axis":null},"text":{"field":"t"}}}
]
}
